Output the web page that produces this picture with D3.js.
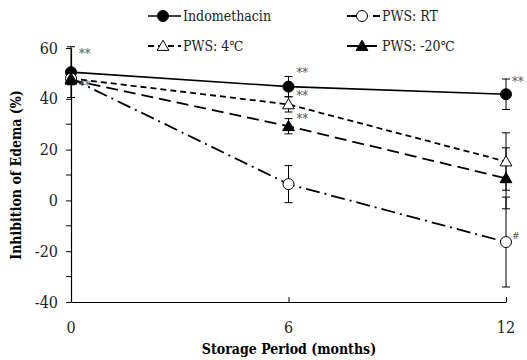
<!DOCTYPE html>
<html>
<head>
<meta charset="utf-8">
<script src="https://cdn.jsdelivr.net/npm/d3@7"></script>
<style>
  body { margin: 0; background: #fff; }
  svg text { font-family: "DejaVu Serif Condensed", "DejaVu Serif", serif; }
</style>
</head>
<body>
<svg id="chart" width="527" height="360"></svg>
<script>
const months = [0, 6, 12];
const seriesNames = ["Indomethacin", "PWS: RT", "PWS: 4℃", "PWS: -20℃"];
const indomethacin = [50.5, 44.8, 41.8];
const indomethacinErr = [10, 4, 6];
const pwsRT = [48, 6.4, -16.4];
const pwsRTErr = [2, 7.3, 17.7];
const pws4 = [48, 37.8, 15.3];
const pws4Err = [2, 3, 11.3];
const pws20 = [47.5, 29.2, 8.7];
const pws20Err = [2, 3, 12];
const yTicks = [-40, -20, 0, 20, 40, 60];
const yMinor = [-30, -10, 10, 30, 50];

const series = [
  {name: seriesNames[0], values: indomethacin, err: indomethacinErr, marker: "circle", fill: "#000", dash: null, width: 1.6},
  {name: seriesNames[1], values: pwsRT, err: pwsRTErr, marker: "circle", fill: "#fff", dash: "14,5,2,5", width: 1.8},
  {name: seriesNames[2], values: pws4, err: pws4Err, marker: "triangle", fill: "#fff", dash: "6,4", width: 1.8},
  {name: seriesNames[3], values: pws20, err: pws20Err, marker: "triangle", fill: "#000", dash: "12,6", width: 1.8}
];

const serif = "'DejaVu Serif Condensed', 'DejaVu Serif', serif";
const svg = d3.select("#chart");
const x = d3.scaleLinear().domain([0, 12]).range([71, 506]);
const y = d3.scaleLinear().domain([-40, 60]).range([302, 48]);

// axes
const yAxis = svg.append("g").attr("transform", `translate(${x(0)},0)`)
  .call(d3.axisLeft(y).tickValues(yTicks).tickFormat(d => String(d))
    .tickSize(5).tickSizeOuter(0).tickPadding(8));
yAxis.attr("font-family", serif).attr("font-size", null);
yAxis.selectAll(".tick text").style("font-size", "16px").style("font-family", serif).attr("fill", "#222");
yAxis.append("g").selectAll("line").data(yMinor).join("line")
  .attr("x1", -5).attr("x2", 0).attr("y1", d => y(d)).attr("y2", d => y(d))
  .attr("stroke", "#000");

const xAxis = svg.append("g").attr("transform", `translate(0,${y(-40)})`)
  .call(d3.axisTop(x).tickValues(months).tickSize(5).tickSizeOuter(0));
xAxis.selectAll(".tick text").remove();
xAxis.selectAll(".tick").filter(d => d === 0).select("line").remove();
svg.append("g").selectAll("text").data(months).join("text")
  .attr("x", d => x(d)).attr("y", 333)
  .attr("text-anchor", "middle").style("font-size", "16px").style("font-family", serif)
  .attr("fill", "#222")
  .text(d => d);

svg.selectAll(".domain").attr("stroke", "#000").attr("stroke-width", 1.2);

// titles
svg.append("text").attr("x", 289).attr("y", 354).attr("text-anchor", "middle")
  .style("font-family", serif)
  .style("font-size", "14px").style("font-weight", "bold").text("Storage Period (months)");
svg.append("text").attr("transform", "translate(21,175) rotate(-90)").attr("text-anchor", "middle")
  .style("font-family", serif)
  .style("font-size", "14px").style("font-weight", "bold").text("Inhibition of Edema (%)");

const tri = d3.symbol().type(d3.symbolTriangle).size(60);
function drawMarker(g, s, cx, cy) {
  if (s.marker === "circle") {
    g.append("circle").attr("cx", cx).attr("cy", cy).attr("r", 5.5)
      .attr("fill", s.fill).attr("stroke", "#000").attr("stroke-width", 1);
  } else {
    g.append("path").attr("d", tri).attr("transform", `translate(${cx},${cy + 1})`)
      .attr("fill", s.fill).attr("stroke", "#000").attr("stroke-width", 1);
  }
}

// error bars
const errG = svg.append("g").attr("stroke", "#000").attr("stroke-width", 1);
series.forEach(s => {
  s.values.forEach((v, i) => {
    const cx = x(months[i]);
    errG.append("line").attr("x1", cx).attr("x2", cx).attr("y1", y(v - s.err[i])).attr("y2", y(v + s.err[i]));
    [v - s.err[i], v + s.err[i]].forEach(e => {
      errG.append("line").attr("x1", cx - 4).attr("x2", cx + 4).attr("y1", y(e)).attr("y2", y(e));
    });
  });
});

// lines
const line = d3.line().x((d, i) => x(months[i])).y(d => y(d));
series.forEach(s => {
  svg.append("path").datum(s.values).attr("d", line)
    .attr("fill", "none").attr("stroke", "#000").attr("stroke-width", s.width)
    .attr("stroke-dasharray", s.dash);
});

// markers
const mG = svg.append("g");
series.forEach(s => s.values.forEach((v, i) => drawMarker(mG, s, x(months[i]), y(v))));

// significance marks
const marks = [
  {t: "**", m: 0, v: 56}, {t: "**", m: 0, v: 43.5},
  {t: "**", m: 6, v: 48.5}, {t: "**", m: 6, v: 39.5}, {t: "**", m: 6, v: 30.5},
  {t: "**", m: 12, v: 45}, {t: "#", m: 12, v: -15}
];
svg.append("g").selectAll("text").data(marks).join("text")
  .attr("x", d => x(d.m) + (d.m === 12 ? 6 : 8)).attr("y", d => y(d.v))
  .style("font-family", serif)
  .style("font-size", d => d.t === "#" ? "10px" : "13px").attr("fill", "#555")
  .text(d => d.t);

// legend
const legendPos = [[148, 16], [347, 16], [148, 46], [347, 46]];
series.forEach((s, i) => {
  const [lx, ly] = legendPos[i];
  const g = svg.append("g");
  g.append("line").attr("x1", lx).attr("x2", lx + 33).attr("y1", ly).attr("y2", ly)
    .attr("stroke", "#000").attr("stroke-width", s.width).attr("stroke-dasharray", s.dash);
  drawMarker(g, s, lx + 15, ly);
  g.append("text").attr("x", lx + 35).attr("y", ly + 5)
    .style("font-family", serif).style("font-size", "14px").attr("fill", "#222").text(s.name);
});
</script>
</body>
</html>
